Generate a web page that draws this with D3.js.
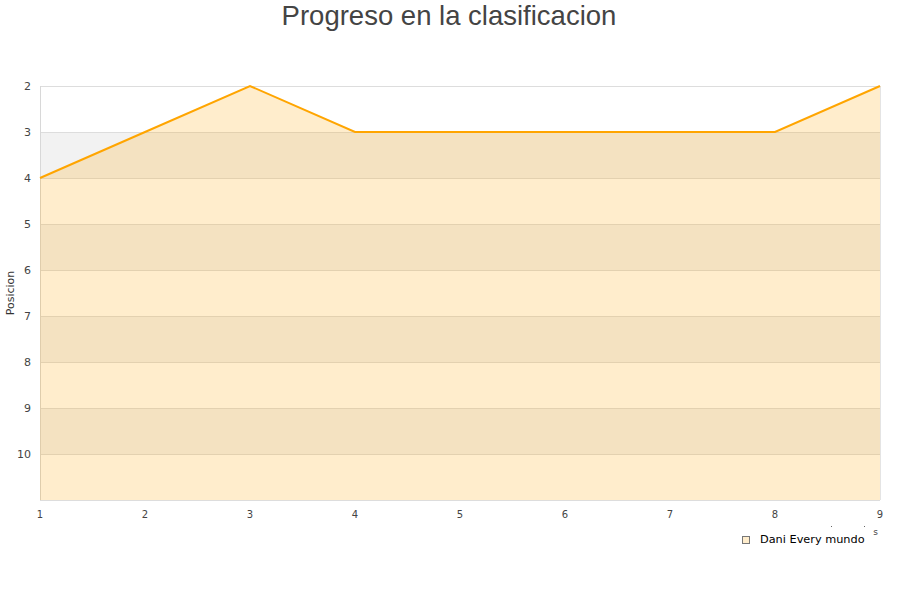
<!DOCTYPE html>
<html><head><meta charset="utf-8">
<script src="https://cdn.jsdelivr.net/npm/d3@7"></script>
<style>body{margin:0;background:#fff;font-family:"DejaVu Sans",sans-serif;}</style>
</head><body><svg id="c" width="900" height="600"></svg>
<script>
const jornadas = [1,2,3,4,5,6,7,8,9];
const posiciones = [4,3,2,3,3,3,3,3,2];
const yTicks = [2,3,4,5,6,7,8,9,10];
const seriesName = "Dani Every mundo";
const title = "Progreso en la clasificacion";

const svg = d3.select("#c");
const L=40,R=880,T=86,B=500;
const x = d3.scaleLinear().domain([1,9]).range([L,R]);
const y = d3.scaleLinear().domain([2,11]).range([T,B]);

// bands
const bands = d3.range(2,11);
svg.selectAll("rect.band").data(bands).enter().append("rect")
  .attr("x",L).attr("width",R-L).attr("y",d=>y(d)).attr("height",d=>y(d+1)-y(d))
  .attr("fill",d=>d%2===1?"#f2f2f2":"#ffffff");
// grid
svg.selectAll("line.g").data(d3.range(2,12)).enter().append("line")
  .attr("x1",L).attr("x2",R).attr("y1",d=>y(d)).attr("y2",d=>y(d))
  .attr("stroke","#dddddd").attr("stroke-width",1).attr("shape-rendering","crispEdges");
svg.append("line").attr("x1",L).attr("x2",L).attr("y1",T).attr("y2",B).attr("stroke","#d8d8d8").attr("shape-rendering","crispEdges");
svg.append("line").attr("x1",R).attr("x2",R).attr("y1",T).attr("y2",B).attr("stroke","#e4e4e4").attr("shape-rendering","crispEdges");

const pts = jornadas.map((j,i)=>[j,posiciones[i]]);
svg.append("path").datum(pts)
  .attr("d",d3.area().x(d=>x(d[0])).y0(y(11)).y1(d=>y(d[1])))
  .attr("fill","#FFA500").attr("fill-opacity",0.2);
svg.append("path").datum(pts)
  .attr("d",d3.line().x(d=>x(d[0])).y(d=>y(d[1])))
  .attr("fill","none").attr("stroke","#FFA500").attr("stroke-width",2);

// axes labels
svg.selectAll("text.yt").data(yTicks).enter().append("text")
  .attr("x",31).attr("y",d=>y(d)+4).attr("text-anchor","end")
  .attr("font-size",11).attr("fill","#444").text(d=>d);
svg.selectAll("text.xt").data(jornadas).enter().append("text")
  .attr("x",d=>x(d)).attr("y",518).attr("text-anchor","middle")
  .attr("font-size",10).attr("fill","#444").text(d=>d);

svg.append("text").attr("transform","translate(14,293) rotate(-90)")
  .attr("text-anchor","middle").attr("font-size",11).attr("fill","#333").text("Posicion");

svg.append("text").attr("x",449).attr("y",25).attr("text-anchor","middle")
  .attr("font-family","'Liberation Sans',Arial,sans-serif").attr("font-size",27.5).attr("fill","#444").text(title);

// visible tail of the x-axis title
svg.append("text").attr("x",878).attr("y",535).attr("text-anchor","end")
  .attr("font-size",9).attr("fill","#444").text("s");
svg.selectAll("rect.dot").data([831,864]).enter().append("rect")
  .attr("x",d=>d).attr("y",526).attr("width",1).attr("height",1).attr("fill","#666");

// legend
svg.append("rect").attr("x",742.5).attr("y",536.5).attr("width",7).attr("height",7)
  .attr("fill","#FFEDCC").attr("stroke","#777").attr("stroke-width",1);
svg.append("text").attr("x",760).attr("y",543).attr("font-size",11.3).attr("fill","#000").text(seriesName);
</script></body></html>
